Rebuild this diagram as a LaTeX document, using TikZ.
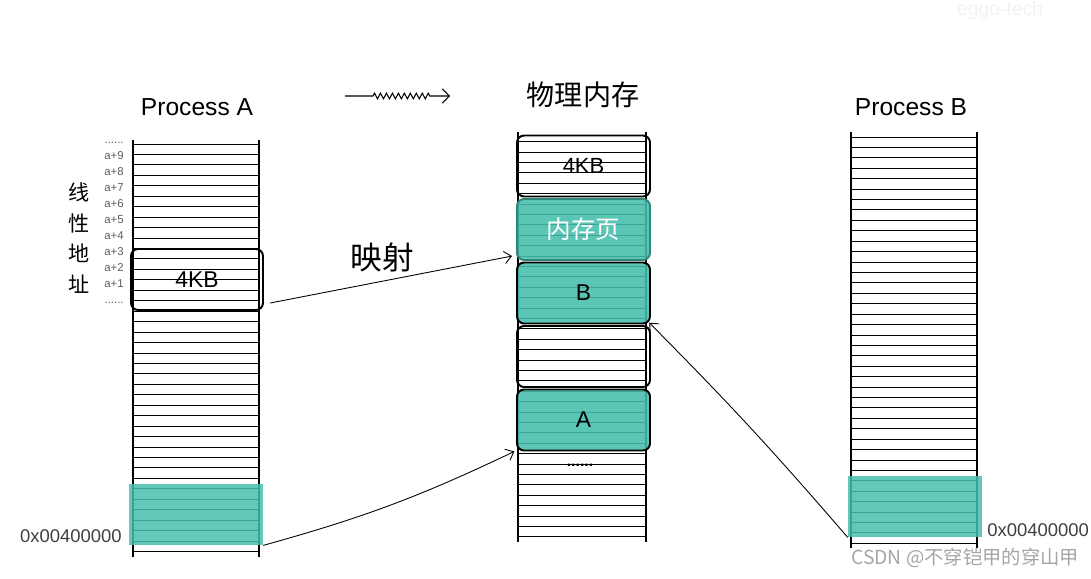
\documentclass[tikz,border=0pt]{standalone}
\usepackage{fontspec}
\setmainfont{Liberation Sans}
\newfontfamily\cjk{Noto Sans CJK SC}
\usetikzlibrary{decorations.pathmorphing,arrows.meta,positioning}

\definecolor{pagegreen}{RGB}{70,190,172}
\definecolor{addrgray}{RGB}{95,95,95}

\tikzset{
  rowline/.style={line width=0.55pt},
  sideline/.style={line width=0.7pt},
  pagebox/.style={draw, rounded corners=4pt, line width=1.1pt, minimum width=2.66cm, minimum height=1.22cm, inner sep=0pt},
  greenpage/.style={fill=pagegreen, fill opacity=0.88, text opacity=1},
  tealblock/.style={fill=pagegreen, fill opacity=0.85, inner sep=0pt, minimum width=2.68cm, minimum height=1.22cm},
  maparrow/.style={line width=0.5pt, -{Straight Barb[length=4pt,width=7pt]}},
  addr/.style={font=\fontsize{6.5}{7}\selectfont, text=addrgray, anchor=east, inner sep=0pt},
  title/.style={font=\fontsize{14}{16}\selectfont},
  hexaddr/.style={font=\fontsize{10.5}{12}\selectfont, text=black!75, inner sep=0pt},
}

\begin{document}
\begin{tikzpicture}[x=0.02cm, y=-0.02cm]
    \useasboundingbox (0,0) rectangle (1091,578);

    % Titles
    \node[title] (procA) at (197,107) {Process A};
    \node[font=\cjk\fontsize{16}{18}\selectfont] (phys) at (583,95) {物理内存};
    \node[title] (procB) at (911,107) {Process B};

    % Squiggly arrow
    \coordinate (sqs) at (345,96);
    \coordinate (sqe) at (450,96);
    \draw[line width=0.6pt, -{Straight Barb[length=4pt,width=8pt]}, decorate,
        decoration={zigzag, segment length=3.4pt, amplitude=1.6pt, pre length=0.56cm, post length=0.4cm}]
        (sqs) -- (sqe);

    % Process A column
    \draw[sideline] (133,140) -- (133,557);
    \draw[sideline] (259,140) -- (259,557);
    \foreach \k in {0,...,39}
        \draw[rowline] (133,{144+10.45*\k}) -- (259,{144+10.45*\k});

    % Physical memory column
    \draw[sideline] (518,132) -- (518,542);
    \draw[sideline] (646,132) -- (646,542);
    \foreach \k in {0,...,38}
        \draw[rowline] (518,{141.7+10.4*\k}) -- (646,{141.7+10.4*\k});

    % Process B column
    \draw[sideline] (851,132) -- (851,548);
    \draw[sideline] (977,132) -- (977,548);
    \foreach \k in {0,...,39}
        \draw[rowline] (851,{137+10.42*\k}) -- (977,{137+10.42*\k});

    % Address labels
    \node[addr] (dotsT) at (124,143) {......};
    \foreach \i in {1,...,9}
        \node[addr] (addr\i) at (124,{284-16.1*(\i-1)}) {a+\i};
    \node[addr] (dotsB) at (124,303) {......};
    \node[font=\cjk\fontsize{12}{17.5}\selectfont, align=center] (linaddr) at (79,238) {线\\性\\地\\址};

    % Pages of A and B
    \node[tealblock] (pageA) at (196,514.5) {};
    \node[tealblock] (pageB) at (915,506.5) {};
    \node[hexaddr, anchor=east] (hexA) at (122,536) {0x00400000};
    \node[hexaddr, anchor=west] (hexB) at (987,530) {0x00400000};

    % 4KB block in A
    \node[pagebox, minimum width=2.64cm, font=\fontsize{13}{14}\selectfont] (a4kb) at (197,279.5) {4KB};

    % Physical pages
    \node[pagebox, font=\fontsize{12.5}{14}\selectfont] (m4kb) at (583.5,166) {4KB};
    \node[pagebox, greenpage, draw=pagegreen!70!black, text=white, font=\cjk\fontsize{14}{16}\selectfont] (mpage) at (583.5,229.5) {内存页};
    \node[pagebox, greenpage, font=\fontsize{13}{14}\selectfont] (mB) at (583.5,293) {B};
    \node[pagebox] (mfree) at (583.5,356.5) {};
    \node[pagebox, greenpage, font=\fontsize{13}{14}\selectfont] (mA) at (583.5,420) {A};
    \node[font=\bfseries\fontsize{9}{10}\selectfont] (mdots) at (580,465) {......};

    % Mapping
    \node[font=\cjk\fontsize{18}{20}\selectfont] (maplbl) at (382,258) {映射};
    \draw[maparrow] ([xshift=3.4pt,yshift=4.5pt]a4kb.south east) -- ([xshift=-2.3pt,yshift=2.8pt]mpage.south west);
    \draw[maparrow] (pageA.south east) to[bend right=5] ([xshift=-1pt]mA.south west);
    \draw[maparrow] (pageB.south west) to[bend right=2] ([xshift=-1pt,yshift=1pt]mB.south east);

    % Watermarks
    \node[text=black!5, font=\fontsize{11}{12}\selectfont] (wmark) at (1000,11) {eggo-tech};
    \node[text=black!35, font=\cjk\fontsize{11}{13}\selectfont, anchor=west] (csdn) at (845,558) {CSDN @不穿铠甲的穿山甲};
\end{tikzpicture}
\end{document}
